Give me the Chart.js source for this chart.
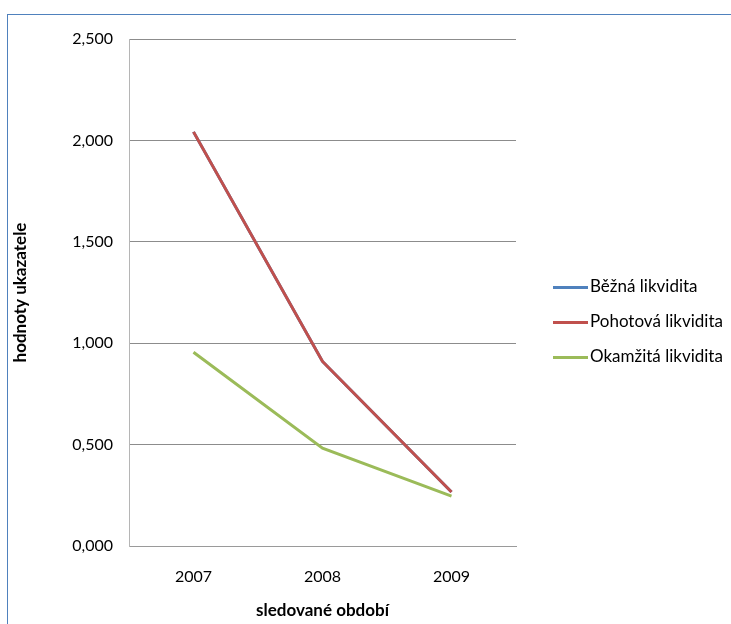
<!DOCTYPE html>
<html>
<head>
<meta charset="utf-8">
<script src="https://cdn.jsdelivr.net/npm/chart.js@4.4.1/dist/chart.umd.min.js"></script>
<style>
  body { margin: 0; background: #fff; font-family: Lato, sans-serif; }
  #wrap { position: relative; width: 731px; height: 624px; overflow: hidden; }
  #frame { position: absolute; left: 7px; top: 14px; width: 760px; height: 640px;
           border: 1.5px solid #4f81bd; box-sizing: border-box; }
  canvas { position: absolute; left: 0; top: 0; }
  #legend { position: absolute; left: 553px; top: 275px; font-size: 17px; color: #000; }
  .item { height: 35px; display: flex; align-items: flex-start; }
  .item span.line { display: inline-block; width: 35px; height: 3px; margin-top: 11px; margin-right: 2px; }
</style>
</head>
<body>
<div id="wrap">
  <div id="frame"></div>
  <canvas id="likviditaChart" width="731" height="624"></canvas>
  <div id="legend"></div>
</div>
<script>
// data
const years = ['2007', '2008', '2009'];
const bezna = [2.042, 0.910, 0.266];      // hidden under the red line
const pohotova = [2.042, 0.910, 0.266];
const okamzita = [0.955, 0.482, 0.246];
const yTicks = [0, 0.5, 1, 1.5, 2, 2.5];

const seriesNames = ['Běžná likvidita', 'Pohotová likvidita', 'Okamžitá likvidita'];
const seriesColors = ['#4f81bd', '#c0504d', '#9bbb59'];

function fmt(v) {
  return v.toFixed(3).replace('.', ',');
}

const ctx = document.getElementById('likviditaChart').getContext('2d');

new Chart(ctx, {
  type: 'line',
  data: {
    labels: years,
    datasets: [bezna, pohotova, okamzita].map((d, i) => ({
      label: seriesNames[i],
      data: d,
      order: 2 - i, // later series drawn on top, like in Excel
      borderColor: seriesColors[i],
      backgroundColor: seriesColors[i],
      borderWidth: 3,
      pointRadius: 0,
      tension: 0,
      fill: false
    }))
  },
  options: {
    responsive: false,
    animation: false,
    layout: { padding: { top: 39, right: 215, bottom: 0, left: 0 } },
    plugins: {
      legend: { display: false },
      tooltip: { enabled: false }
    },
    scales: {
      x: {
        offset: true,
        grid: { display: false, drawTicks: false },
        border: { color: '#9a9a9a' },
        ticks: { padding: 21, color: '#000', font: { family: 'Lato', size: 16 } },
        title: {
          display: true,
          text: 'sledované období',
          color: '#000',
          font: { family: 'Lato', size: 17, weight: 'bold' },
          padding: { top: 0, bottom: 3 }
        },
        afterFit: scale => { scale.height = 78; }
      },
      y: {
        min: 0,
        max: 2.5,
        afterBuildTicks: scale => { scale.ticks = yTicks.map(v => ({ value: v })); },
        grid: { color: '#8c8c8c', drawTicks: false },
        border: { color: '#b5b5b5' },
        ticks: {
          padding: 16,
          color: '#000',
          font: { family: 'Lato', size: 16 },
          callback: v => fmt(v)
        },
        title: {
          display: true,
          text: 'hodnoty ukazatele',
          color: '#000',
          font: { family: 'Lato', size: 17, weight: 'bold' },
          padding: { top: 10, bottom: 0 }
        },
        afterFit: scale => { scale.width = 129; }
      }
    }
  }
});

// legend on the right
const legend = document.getElementById('legend');
seriesNames.forEach((name, i) => {
  const row = document.createElement('div');
  row.className = 'item';
  row.innerHTML = `<span class="line" style="background:${seriesColors[i]}"></span><span>${name}</span>`;
  legend.appendChild(row);
});
</script>
</body>
</html>
